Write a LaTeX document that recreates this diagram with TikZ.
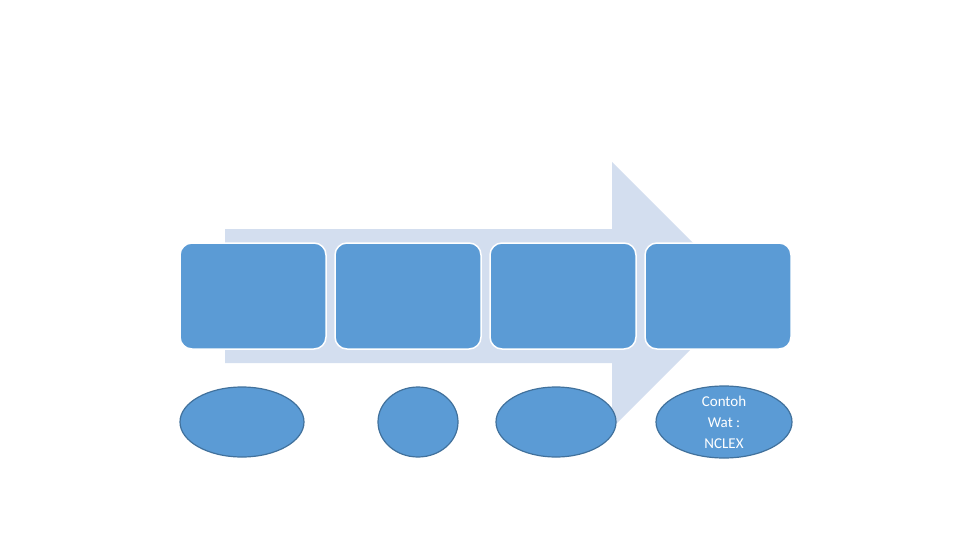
\documentclass[tikz,border=0pt]{standalone}
\usepackage{fontspec}
\setmainfont{Carlito}
\usetikzlibrary{shapes,positioning}
\definecolor{boxblue}{HTML}{5B9BD5}
\definecolor{rimblue}{HTML}{41719C}
\definecolor{arrowblue}{HTML}{D3DEEF}

\begin{document}
\begin{tikzpicture}[x=1pt, y=-1pt, node distance=7.5pt,
  stage/.style={rectangle, rounded corners=12pt, fill=boxblue, draw=white, line width=1.5pt, minimum width=146pt, minimum height=106pt, inner sep=0pt},
  oval/.style={ellipse, fill=boxblue, draw=rimblue, line width=1.2pt, minimum height=70pt, inner sep=0pt}]
  \useasboundingbox (0,0) rectangle (960,540);
  % big arrow behind the boxes
  \fill[arrowblue] (225,229) -- (612,229) -- (612,162) -- (745,295) -- (612,428) -- (612,363) -- (225,363) -- cycle;
  \node[stage] (b1) at (253,296) {};
  \node[stage, right=of b1] (b2) {};
  \node[stage, right=of b2] (b3) {};
  \node[stage, right=of b3] (b4) {};
  \node[oval, minimum width=124pt] (e1) at (242,422) {};
  \node[oval, minimum width=80pt] (e2) at (418,422) {};
  \node[oval, minimum width=120pt] (e3) at (556,422) {};
  \node[oval, minimum width=136pt, minimum height=72pt, label={[text=white, font=\fontsize{15}{21}\selectfont, align=center]center:Contoh\\Wat :\\NCLEX}] (e4) at (724,422) {};
\end{tikzpicture}
\end{document}
